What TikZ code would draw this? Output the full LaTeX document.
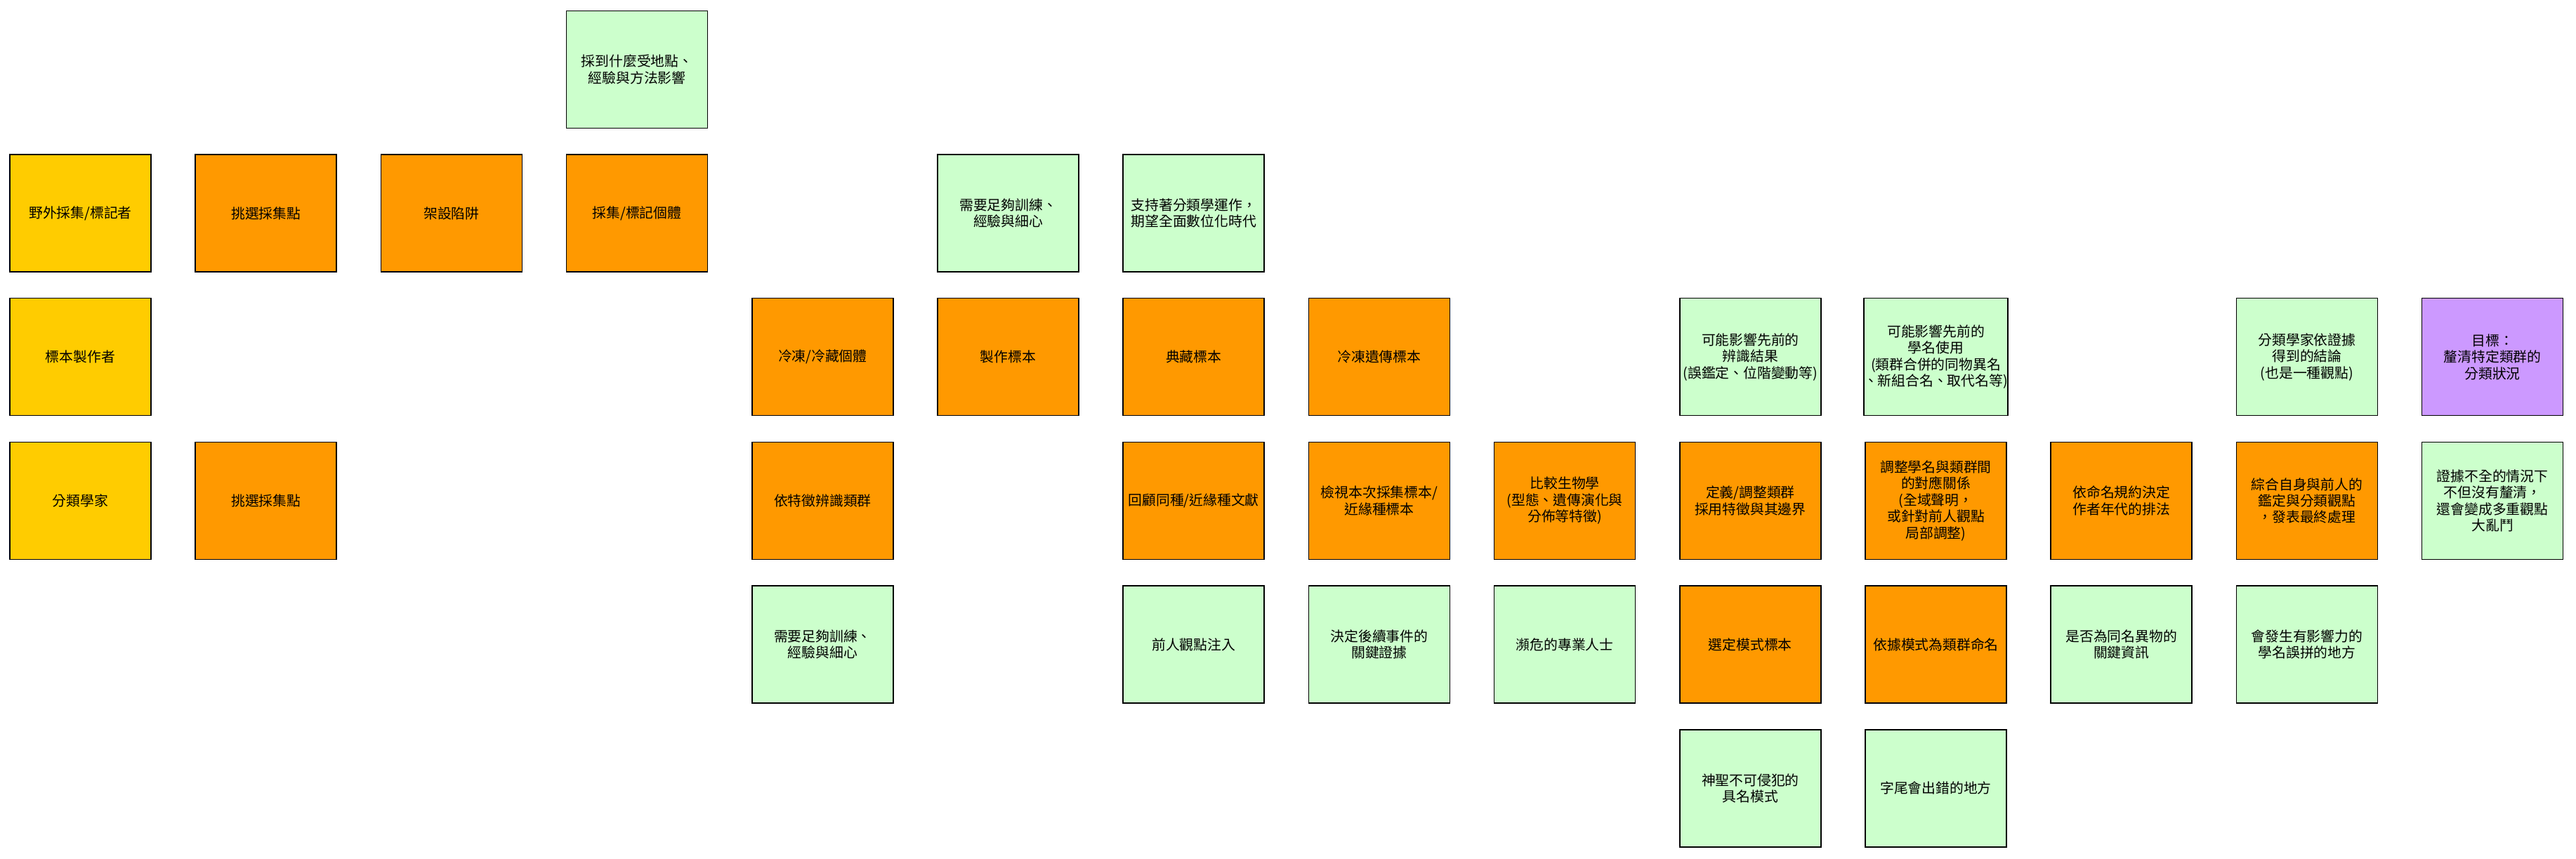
\documentclass[tikz,border=0pt]{standalone}
\usepackage{fontspec}
\newfontfamily\cjk{Noto Sans CJK TC}
\definecolor{actorfill}{HTML}{FFCC00}
\definecolor{taskfill}{HTML}{FF9900}
\definecolor{notefill}{HTML}{CCFFCC}
\definecolor{goalfill}{HTML}{CC99FF}
\tikzset{
  card/.style={shape=rectangle,draw=black,line width=0.75pt,minimum width=100.5pt,minimum height=83.5pt,inner sep=0pt,align=center,font=\cjk\fontsize{9.9}{11.7}\selectfont},
  actor/.style={card,fill=actorfill},
  task/.style={card,fill=taskfill},
  note/.style={card,fill=notefill},
  goal/.style={card,fill=goalfill}
}
\begin{document}
\begin{tikzpicture}[x=132.1pt,y=-102.35pt]
\useasboundingbox (-57.25pt,49.4pt) rectangle (1776.75pt,-561.6pt);
% row 0
\node[note] (collectnote) at (3,0) {採到什麼受地點、\\經驗與方法影響};
% row 1
\node[actor] (collector) at (0,1) {野外採集/標記者};
\node[task] (pickA) at (1,1) {挑選採集點};
\node[task] (trap) at (2,1) {架設陷阱};
\node[task] (collect) at (3,1) {採集/標記個體};
\node[note] (skillA) at (5,1) {需要足夠訓練、\\經驗與細心};
\node[note] (digital) at (6,1) {支持著分類學運作，\\期望全面數位化時代};
% row 2
\node[actor] (preparer) at (0,2) {標本製作者};
\node[task] (freeze) at (4,2) {冷凍/冷藏個體};
\node[task] (prepare) at (5,2) {製作標本};
\node[task] (archive) at (6,2) {典藏標本};
\node[task] (tissue) at (7,2) {冷凍遺傳標本};
\node[note] (idnote) at (9,2) {可能影響先前的\\辨識結果\\(誤鑑定、位階變動等)};
\node[note] (namenote) at (10,2) {可能影響先前的\\學名使用\\(類群合併的同物異名\\、新組合名、取代名等)};
\node[note] (concl) at (12,2) {分類學家依證據\\得到的結論\\(也是一種觀點)};
\node[goal] (goal) at (13,2) {目標：\\釐清特定類群的\\分類狀況};
% row 3
\node[actor] (taxonomist) at (0,3) {分類學家};
\node[task] (pickB) at (1,3) {挑選採集點};
\node[task] (identify) at (4,3) {依特徵辨識類群};
\node[task] (review) at (6,3) {回顧同種/近緣種文獻};
\node[task] (examine) at (7,3) {檢視本次採集標本/\\近緣種標本};
\node[task] (compare) at (8,3) {比較生物學\\(型態、遺傳演化與\\分佈等特徵)};
\node[task] (define) at (9,3) {定義/調整類群\\採用特徵與其邊界};
\node[task] (adjust) at (10,3) {調整學名與類群間\\的對應關係\\(全域聲明，\\或針對前人觀點\\局部調整)};
\node[task] (author) at (11,3) {依命名規約決定\\作者年代的排法};
\node[task] (publish) at (12,3) {綜合自身與前人的\\鑑定與分類觀點\\，發表最終處理};
\node[note] (chaos) at (13,3) {證據不全的情況下\\不但沒有釐清，\\還會變成多重觀點\\大亂鬥};
% row 4
\node[note] (skillB) at (4,4) {需要足夠訓練、\\經驗與細心};
\node[note] (prior) at (6,4) {前人觀點注入};
\node[note] (evidence) at (7,4) {決定後續事件的\\關鍵證據};
\node[note] (endangered) at (8,4) {瀕危的專業人士};
\node[task] (type) at (9,4) {選定模式標本};
\node[task] (naming) at (10,4) {依據模式為類群命名};
\node[note] (homonym) at (11,4) {是否為同名異物的\\關鍵資訊};
\node[note] (misspell) at (12,4) {會發生有影響力的\\學名誤拼的地方};
% row 5
\node[note] (holotype) at (9,5) {神聖不可侵犯的\\具名模式};
\node[note] (suffix) at (10,5) {字尾會出錯的地方};
\end{tikzpicture}
\end{document}
